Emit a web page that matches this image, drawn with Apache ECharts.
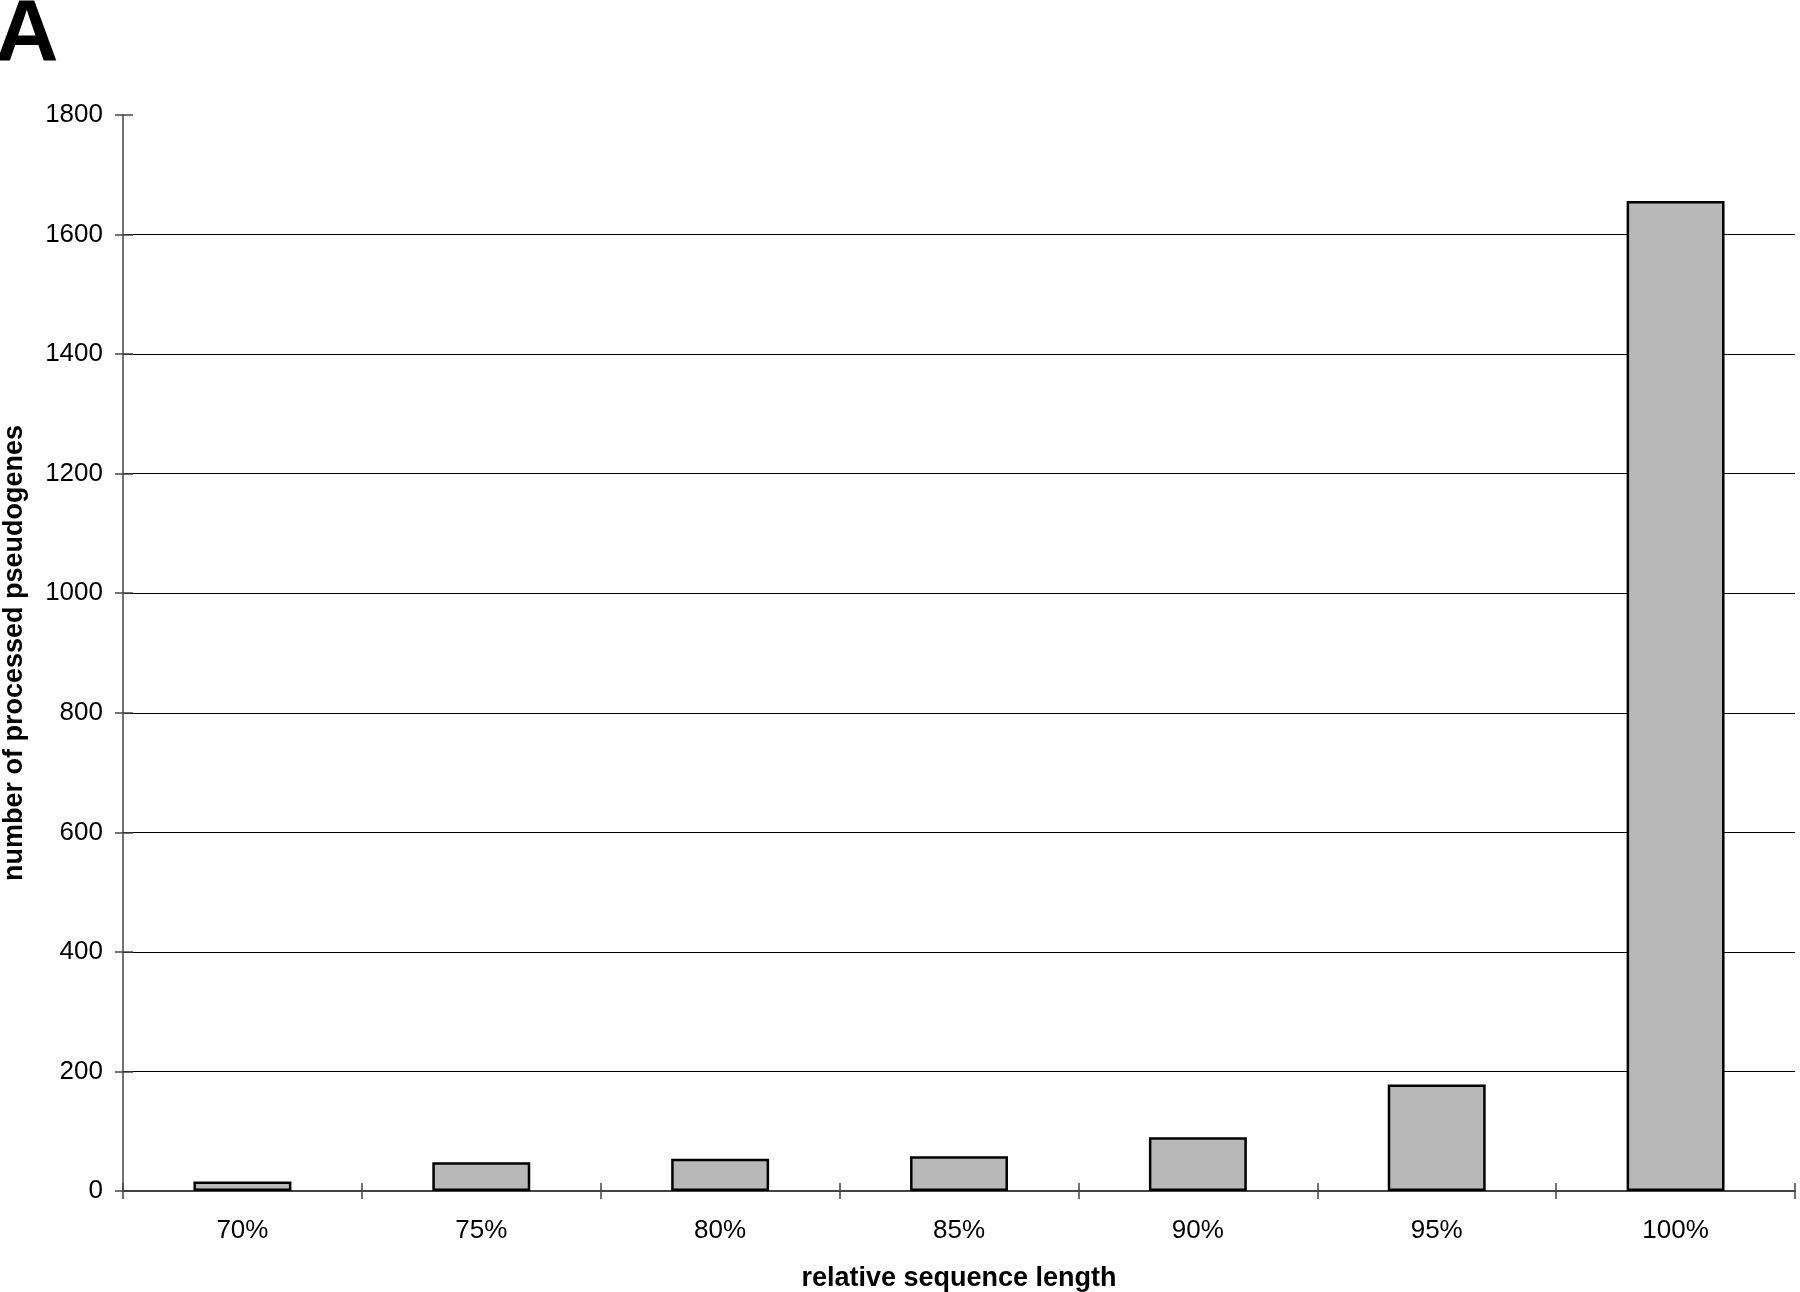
<!DOCTYPE html>
<html>
<head>
<meta charset="utf-8">
<script src="https://cdn.jsdelivr.net/npm/echarts@6/dist/echarts.min.js"></script>
<style>html,body{margin:0;padding:0;background:#fff}#chart{width:1800px;height:1292px}</style>
</head>
<body>
<div id="chart"></div>
<script>
const categories = ['70%', '75%', '80%', '85%', '90%', '95%', '100%'];
const counts = [16, 48, 54, 58, 90, 178, 1656];
const yTicks = [0, 200, 400, 600, 800, 1000, 1200, 1400, 1600, 1800];

const font = 'Liberation Sans, Arial, sans-serif';
const gridColors = yTicks.map((v, i) => i === yTicks.length - 1 ? 'rgba(0,0,0,0)' : '#000');

const chart = echarts.init(document.getElementById('chart'));
chart.setOption({
  backgroundColor: '#fff',
  animation: false,
  title: {
    text: 'A', left: -10, top: -13,
    textStyle: { fontFamily: font, fontSize: 88, fontWeight: 'bold', color: '#000' }
  },
  grid: { left: 123, right: 5, top: 115, bottom: 101, containLabel: false, outerBoundsMode: 'none' },
  xAxis: [{
    type: 'category', data: categories, position: 'bottom',
    name: 'relative sequence length', nameLocation: 'middle', nameGap: 74,
    nameTextStyle: { fontFamily: font, fontSize: 27, fontWeight: 'bold', color: '#000' },
    axisLine: { lineStyle: { color: '#444', width: 2 } },
    axisTick: { show: true, length: 8, lineStyle: { color: '#444', width: 1.5 } },
    axisLabel: { fontFamily: font, fontSize: 26, color: '#000', margin: 27 },
    splitLine: { show: false }
  }, {
    type: 'category', data: categories, position: 'bottom',
    axisLine: { show: false },
    axisTick: { show: true, inside: true, length: 8, lineStyle: { color: '#444', width: 1.5 } },
    axisLabel: { show: false }, splitLine: { show: false }
  }],
  yAxis: [{
    type: 'value', min: 0, max: 1800, interval: 200,
    name: 'number of processed pseudogenes', nameLocation: 'middle', nameGap: 95,
    nameTextStyle: { fontFamily: font, fontSize: 27, fontWeight: 'bold', color: '#000' },
    axisLine: { show: true, lineStyle: { color: '#444', width: 1.5 } },
    axisTick: { show: true, length: 8, lineStyle: { color: '#444', width: 1.5 } },
    axisLabel: { fontFamily: font, fontSize: 26, color: '#000', margin: 20, formatter: v => String(v) },
    splitLine: { show: true, lineStyle: { color: gridColors, width: 1.2 } }
  }, {
    type: 'value', min: 0, max: 1800, interval: 200, position: 'left',
    axisLine: { show: false },
    axisTick: { show: true, inside: true, length: 10, lineStyle: { color: '#444', width: 1.5 } },
    axisLabel: { show: false }, splitLine: { show: false }
  }],
  series: [{
    type: 'bar', data: counts, barWidth: '41%', xAxisIndex: 0, yAxisIndex: 0,
    itemStyle: { color: '#b8b8b8', borderColor: '#000', borderWidth: 2.5 }
  }]
});
</script>
</body>
</html>
